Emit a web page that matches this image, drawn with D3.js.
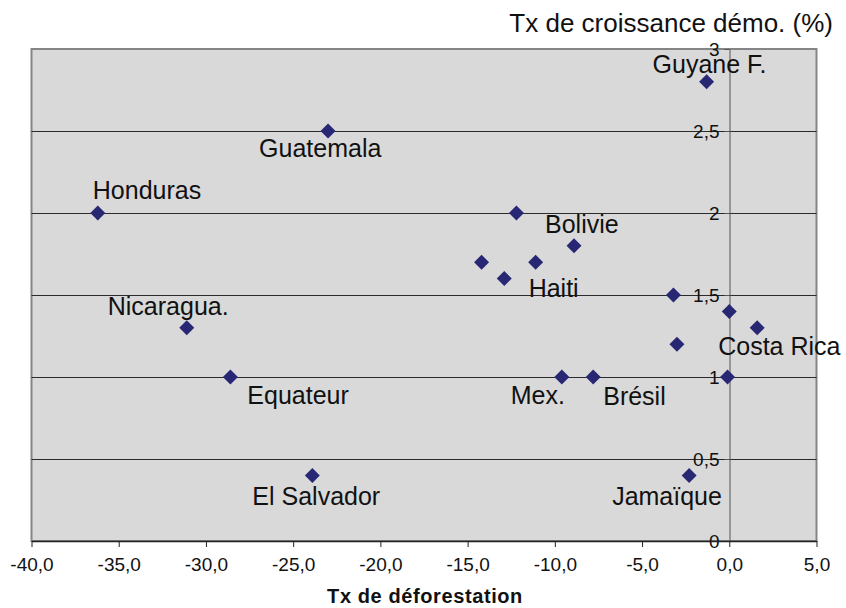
<!DOCTYPE html>
<html lang="fr">
<head>
    <meta charset="UTF-8">
    <title>Déforestation et croissance démographique</title>
    <script src="https://cdnjs.cloudflare.com/ajax/libs/d3/7.8.5/d3.min.js"></script>
    <style>
        body { margin: 0; background: #fff; }
        svg { display: block; font-family: Arial, "Liberation Sans", sans-serif; }
    </style>
</head>
<body>
<svg id="chart" width="846" height="608"></svg>

<script>
    // taux de déforestation (x) et croissance démographique (y)
    const deforestation = [-36.2, -31.1, -28.6, -23.0, -23.9, -14.2, -12.9, -12.2, -11.1, -8.9,
                           -9.6, -7.8, -3.2, -3.0, 0.0, 1.6, -0.1, -2.3, -1.3];
    const croissance    = [2.0, 1.3, 1.0, 2.5, 0.4, 1.7, 1.6, 2.0, 1.7, 1.8,
                           1.0, 1.0, 1.5, 1.2, 1.4, 1.3, 1.0, 0.4, 2.8];
    const pays          = ["Honduras", "Nicaragua.", "Equateur", "Guatemala", "El Salvador", "", "", "", "Haiti", "Bolivie",
                           "Mex.", "Brésil", "", "", "", "Costa Rica", "", "Jamaïque", "Guyane F."];

    const xTicks = [-40, -35, -30, -25, -20, -15, -10, -5, 0, 5];
    const yTicks = [0, 0.5, 1, 1.5, 2, 2.5, 3];

    // décalage des étiquettes par rapport au point (px)
    const labelOffset = {
        "Honduras": [-5, -14], "Nicaragua.": [-79, -13], "Equateur": [17, 27],
        "Guatemala": [-69, 26], "El Salvador": [-60, 30], "Haiti": [-7, 35],
        "Bolivie": [-29, -13], "Mex.": [-51, 27], "Brésil": [10, 28],
        "Costa Rica": [-39, 27], "Jamaïque": [-77, 30], "Guyane F.": [-54, -9]
    };

    const svg = d3.select("#chart");
    const plotLeft = 31.5, plotRight = 816.5, plotTop = 49, plotBottom = 541;

    const x = d3.scaleLinear().domain([-40, 5]).range([plotLeft, plotRight]);
    const y = d3.scaleLinear().domain([0, 3]).range([plotBottom, plotTop]);

    const data = deforestation.map((d, i) => ({ x: d, y: croissance[i], name: pays[i] }));

    // fond de la zone de tracé
    svg.append("rect")
        .attr("x", plotLeft).attr("y", plotTop)
        .attr("width", plotRight - plotLeft).attr("height", plotBottom - plotTop)
        .attr("fill", "#d9d9d9")
        .attr("stroke", "#858585")
        .attr("stroke-width", 2);

    // quadrillage horizontal
    svg.append("g")
        .selectAll("line")
        .data(yTicks.filter(d => d > 0 && d < 3))
        .join("line")
        .attr("x1", plotLeft).attr("x2", plotRight)
        .attr("y1", d => Math.round(y(d)) + 0.5)
        .attr("y2", d => Math.round(y(d)) + 0.5)
        .attr("stroke", "#2a2a2a")
        .attr("stroke-width", 1);

    const fmt = d => String(d).replace(".", ",");

    // axe vertical en x = 0
    const yAxis = svg.append("g")
        .attr("transform", `translate(${Math.round(x(0)) + 0.5},0)`)
        .call(d3.axisLeft(y).tickValues(yTicks).tickFormat(fmt).tickSize(5).tickSizeOuter(0).tickPadding(5));
    yAxis.select(".domain").attr("stroke", "#555");
    yAxis.selectAll(".tick line").attr("stroke", "#555");
    yAxis.selectAll("text")
        .attr("font-size", 19)
        .attr("font-family", "Arial, 'Liberation Sans', sans-serif")
        .attr("fill", "#111");

    // axe horizontal (tiret simple et virgule décimale)
    const xAxis = svg.append("g")
        .attr("transform", `translate(0,${plotBottom})`)
        .call(d3.axisBottom(x).tickValues(xTicks).tickFormat(d => d.toFixed(1).replace(".", ","))
            .tickSize(6).tickSizeOuter(0).tickPadding(11));
    xAxis.select(".domain").attr("stroke", "#222").attr("stroke-width", 1.5);
    xAxis.selectAll(".tick line").attr("stroke", "#222");
    xAxis.selectAll("text")
        .attr("font-size", 19)
        .attr("font-family", "Arial, 'Liberation Sans', sans-serif")
        .attr("fill", "#111");

    // points en losange
    const diamond = d3.symbol().type(d3.symbolSquare).size(112);
    svg.append("g")
        .selectAll("path")
        .data(data)
        .join("path")
        .attr("d", diamond)
        .attr("transform", d => `translate(${x(d.x)},${y(d.y)}) rotate(45)`)
        .attr("fill", "#272774");

    // étiquettes des pays
    svg.append("g")
        .selectAll("text")
        .data(data.filter(d => d.name))
        .join("text")
        .attr("x", d => x(d.x) + labelOffset[d.name][0])
        .attr("y", d => y(d.y) + labelOffset[d.name][1])
        .attr("font-size", 25)
        .attr("fill", "#111")
        .text(d => d.name);

    // titres des axes
    svg.append("text")
        .attr("x", 833).attr("y", 32)
        .attr("text-anchor", "end")
        .attr("font-size", 26)
        .attr("fill", "#111")
        .text("Tx de croissance démo. (%)");

    svg.append("text")
        .attr("x", 425).attr("y", 603)
        .attr("text-anchor", "middle")
        .attr("font-size", 20)
        .attr("font-weight", "bold")
        .attr("letter-spacing", 0.6)
        .attr("fill", "#111")
        .text("Tx de déforestation");
</script>
</body>
</html>
